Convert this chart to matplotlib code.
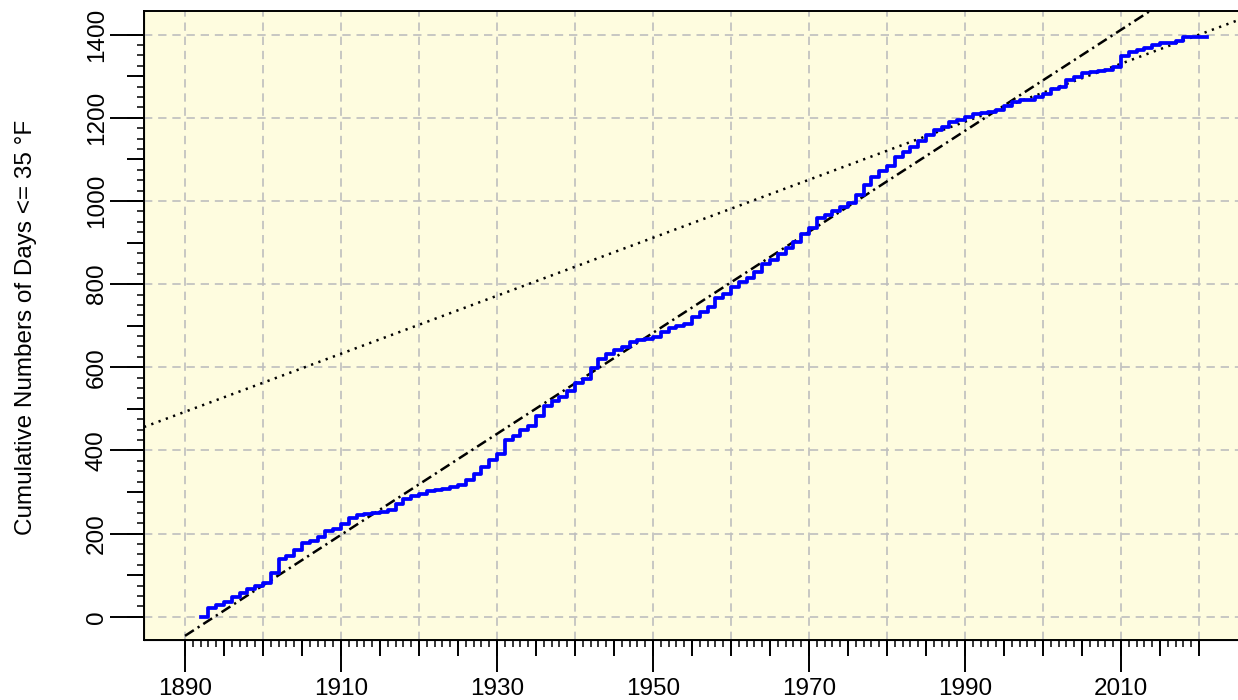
import numpy as np
import matplotlib.pyplot as plt
from matplotlib.ticker import FixedLocator

plt.rcParams['font.family'] = ['Liberation Sans', 'DejaVu Sans']
plt.rcParams['font.size'] = 17.5

# cumulative number of days <= 35 F, value at the start of each year
years = np.arange(1892, 2022)
cum_days = [
    0, 22, 28, 35, 48, 58, 67, 74,
    82, 105, 140, 146, 160, 177, 183, 192, 205, 211,
    224, 237, 245, 248, 250, 252, 257, 270, 284, 290,
    296, 302, 304, 308, 313, 318, 330, 343, 360, 376,
    392, 424, 434, 449, 458, 482, 508, 518, 528, 542,
    562, 572, 598, 620, 631, 641, 648, 660, 666, 668,
    672, 684, 694, 700, 703, 720, 733, 745, 766, 776,
    792, 805, 815, 830, 848, 858, 872, 886, 902, 920,
    936, 960, 966, 976, 986, 995, 1015, 1038, 1057, 1071,
    1083, 1105, 1118, 1131, 1145, 1158, 1170, 1178, 1190, 1196,
    1202, 1209, 1212, 1214, 1219, 1228, 1239, 1243, 1243, 1250,
    1257, 1269, 1275, 1290, 1298, 1307, 1311, 1313, 1316, 1323,
    1348, 1359, 1363, 1367, 1375, 1380, 1381, 1386, 1394, 1395,
    1395, 1395,
]

# trend lines (two points each)
trend_all_years = [1890, 2025]
trend_all_vals = [-46, 1594]
trend_recent_years = [1890, 2020]
trend_recent_vals = [493, 1400]

fig = plt.figure(figsize=(12.38, 7.0), dpi=100)
ax = fig.add_axes([144 / 1238, 60 / 700, 1094 / 1238, 629 / 700])
ax.set_facecolor('#fefcdf')

# grid
for yr in range(1890, 2021, 10):
    ax.axvline(yr, color='#bebebe', lw=1.2, ls=(0, (5, 3.5)), zorder=1)
for v in range(0, 1401, 200):
    ax.axhline(v, color='#bebebe', lw=1.2, ls=(0, (5, 3.5)), zorder=1)

ax.plot(trend_all_years, trend_all_vals, color='black', lw=1.8,
        ls=(0, (4.2, 1.8, 0.9, 1.8)), zorder=2)
ax.axline((trend_recent_years[0], trend_recent_vals[0]),
          (trend_recent_years[1], trend_recent_vals[1]),
          color='black', lw=1.8, ls=(0, (0.9, 2.2)), zorder=2)
ax.plot(years, cum_days, color='#0000ff', lw=2.7, drawstyle='steps-post', zorder=3)

ax.set_xlim(1884.74, 2025.0)
ax.set_ylim(-56, 1457)

for s in ['left', 'bottom', 'top']:
    ax.spines[s].set_linewidth(1.4)
ax.spines['right'].set_visible(False)

# x ticks: long every 20, medium every 5, short every year
ax.set_xticks(range(1890, 2021, 20))
ax.xaxis.set_minor_locator(FixedLocator(range(1890, 2021)))
ax.tick_params(axis='x', which='major', length=23, width=1.4, pad=4.3)
ax.tick_params(axis='x', which='minor', length=5, width=1.1)
secx = ax.secondary_xaxis('bottom')
secx.set_xticks(range(1890, 2021, 5))
secx.tick_params(length=11.5, width=1.4, labelbottom=False)

# y ticks: long every 200, medium every 100, short every 25
ax.set_yticks(range(0, 1401, 200))
ax.yaxis.set_minor_locator(FixedLocator(range(0, 1401, 25)))
ax.tick_params(axis='y', which='major', length=24.5, width=1.4, pad=1.5,
               labelrotation=90)
ax.tick_params(axis='y', which='minor', length=5, width=1.1)
secy = ax.secondary_yaxis('left')
secy.set_yticks(range(0, 1401, 100))
secy.tick_params(length=12.2, width=1.4, labelleft=False)
for lab in ax.get_yticklabels():
    lab.set_verticalalignment('center')

fig.text(26 / 1238, 1 - 327 / 700, 'Cumulative Numbers of Days <= 35 \u00b0F',
         rotation=90, ha='center', va='center', fontsize=17.5)

fig.savefig('out.png', dpi=100)
